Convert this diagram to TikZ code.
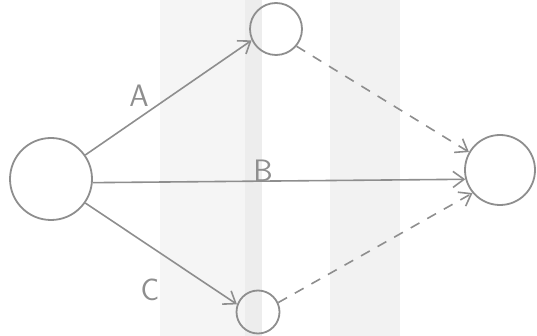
\documentclass[tikz,border=0pt]{standalone}
\usepackage{fontspec}
\setmainfont{DejaVu Sans}
\usetikzlibrary{arrows.meta}
\definecolor{pencil}{HTML}{8E8E8E}
\begin{document}
\begin{tikzpicture}[x=1pt,y=-1pt,
  ev/.style={circle,draw=pencil,line width=1.8pt,inner sep=0pt},
  act/.style={draw=pencil,line width=1.6pt,-{Straight Barb[length=11pt,width=16pt,line width=1.6pt]}},
  dum/.style={act,dash pattern=on 10pt off 9pt},
  lbl/.style={text=pencil,font=\fontsize{31}{31}\selectfont\sffamily}]
\useasboundingbox (0,0) rectangle (537,336);
\fill[black!4] (160,0) rectangle (245,336);
\fill[black!7] (245,0) rectangle (262,336);
\fill[black!5] (330,0) rectangle (400,336);
\node[ev,minimum size=82pt] (s) at (51,179) {};
\node[ev,minimum size=52pt] (t) at (276,29) {};
\node[ev,minimum size=70pt] (e) at (500,170) {};
\node[ev,minimum size=43pt] (b) at (258,312) {};
\draw[act] (s.35) -- (t.205);
\draw[act] (s.-5) -- (e.195);
\draw[act] (s.-35) -- (b.160);
\draw[dum] (t.-40) -- (e.150);
\draw[dum] (b.25) -- (e.220);
\node[lbl] (la) at (139,96) {A};
\node[lbl] (lb) at (263,171) {B};
\node[lbl] (lc) at (150,290) {C};
\end{tikzpicture}
\end{document}
